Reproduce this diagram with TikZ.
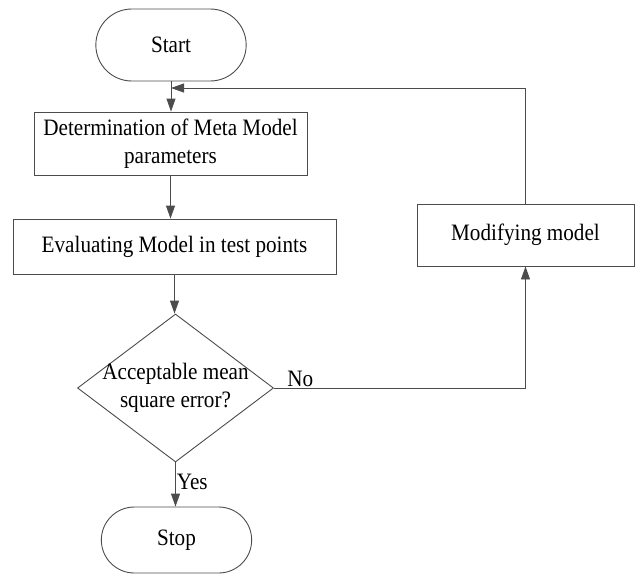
\documentclass[tikz,border=0pt]{standalone}
\usepackage{fontspec}
\setmainfont{Liberation Serif}[FakeStretch=0.9]
\usetikzlibrary{arrows.meta}
\usetikzlibrary{shapes.geometric,shapes.misc}
\tikzset{
 term/.style={draw=black!70, line width=0.9pt, rounded rectangle, minimum width=157pt},
 proc/.style={draw=black!70, line width=0.9pt, rectangle, inner sep=2pt},
 decide/.style={draw=black!70, line width=0.9pt, diamond, minimum width=196pt, minimum height=148pt, inner sep=0pt},
 conn/.style={draw=black!70, line width=0.9pt},
}

\begin{document}
\begin{tikzpicture}[x=1pt, y=-1pt, font=\fontsize{23.5}{28}\selectfont, >={Triangle[length=13pt,width=9pt]}]
\useasboundingbox (0,0) rectangle (637,574);
% boxes
\node[term, minimum height=72pt] (start) at (171,45) {Start};
\node[proc, minimum width=273pt, minimum height=63pt, align=center] (det) at (170.5,143.5) {Determination of Meta Model\\parameters};
\node[proc, minimum width=323pt, minimum height=55pt] (eval) at (174.5,246.5) {Evaluating Model in test points};
\node[decide] (dec) at (175.5,388) {};
\node[align=center, inner sep=0pt] (ask) at (dec) {Acceptable mean\\square error?};
\node[proc, minimum width=217pt, minimum height=62pt] (mod) at (525.5,235) {Modifying model};
\node[term, minimum height=66pt] (stop) at (176.5,540) {Stop};
\coordinate (join) at (171,88);
% connectors
\draw[conn, ->] (start.south) -- (start.south |- det.north);
\draw[conn, ->] (det.south) -- (det.south |- eval.north);
\draw[conn, ->] (eval.south) -- (eval.south |- dec.north);
\draw[conn, ->] (dec.east) -- node[pos=0, above right, xshift=12pt, inner sep=1pt] (no) {No} (dec.east -| mod.south) -- (mod.south);
\draw[conn, ->] (mod.north) |- (join);
\draw[conn, ->] (dec.south) -- node[pos=0.45, right, inner sep=1pt] (yes) {Yes} (dec.south |- stop.north);
\end{tikzpicture}
\end{document}
